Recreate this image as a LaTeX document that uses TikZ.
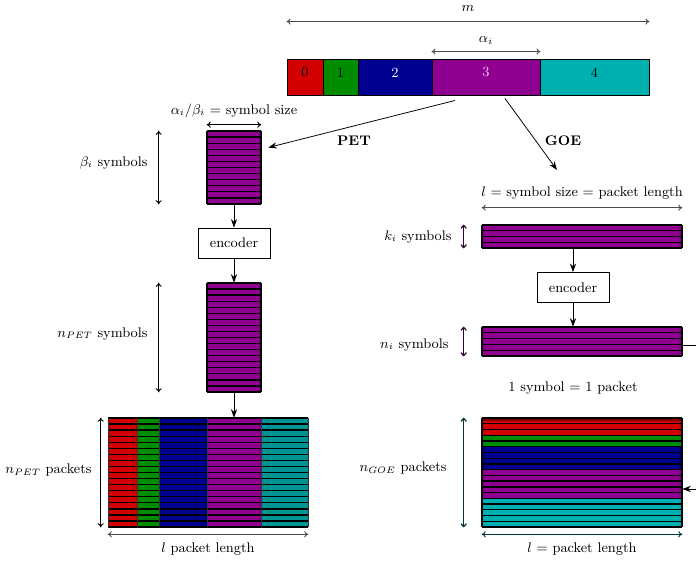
\documentclass[tikz,border=0pt]{standalone}
\usetikzlibrary{arrows.meta,fit,calc}
\definecolor{cred}{RGB}{210,0,0}
\definecolor{cgreen}{RGB}{0,140,0}
\definecolor{cblue}{RGB}{0,0,144}
\definecolor{cpurple}{RGB}{144,0,144}
\definecolor{cteal}{RGB}{0,176,176}
\definecolor{cteald}{RGB}{0,148,148}
\definecolor{cpink}{RGB}{250,200,250}
\newcommand\hstripes[6]{%
  \fill[#6] (#1,#2) rectangle (#3,#4);
  \foreach \k in {0,...,#5}{\draw[stripe] (#1,{#2+\k*(#4-#2)/#5}) -- (#3,{#2+\k*(#4-#2)/#5});}
  \draw[stripe] (#1,#2) -- (#1,#4) (#3,#2) -- (#3,#4);}
\begin{document}
\begin{tikzpicture}[x=0.645pt,y=-0.645pt,
  every node/.style={font=\small},
  stripe/.style={line width=0.85pt,black},
  dim/.style={black!70,line width=0.6pt,{To[length=2.6pt,width=4pt]}-{To[length=2.6pt,width=4pt]}},
  flow/.style={black,line width=0.5pt,-{Stealth[length=5.5pt,width=4pt]}},
  seg/.style={draw,inner sep=0pt,line width=0.6pt},
  box/.style={draw,inner sep=0pt,minimum width=46.4pt,minimum height=19.4pt,line width=0.5pt},
  area/.style={inner sep=0pt}]
\useasboundingbox (0,0) rectangle (696,561);
% top bar
\node[seg,fill=cred,fit={(287,59)(323,95)}] (b0) {0};
\node[seg,fill=cgreen,fit={(323,59)(358,95)}] (b1) {1};
\node[seg,fill=cblue,text=white,fit={(358,59)(432,95)}] (b2) {2};
\node[seg,fill=cpurple,text=cpink,fit={(432,59)(540,95)}] (b3) {3};
\node[seg,fill=cteal,fit={(540,59)(649,95)}] (b4) {4};
\draw[dim] ($(b0.north west)+(0,-37)$) -- node[above=3pt,black] (lm) {$m$} ($(b4.north east)+(0,-37)$);
\draw[dim] ($(b3.north west)+(0,-7)$) -- node[above=1pt,black] (la) {$\alpha_i$} ($(b3.north east)+(0,-7)$);
% left column
\node[area,fit={(207,131)(261,204)}] (s1) {};
\hstripes{207}{131}{261}{204}{12}{cpurple}
\draw[dim,black] ($(s1.north west)+(0,-6)$) -- node[above=1pt] (lsz) {$\alpha_i/\beta_i$ = symbol size} ($(s1.north east)+(0,-6)$);
\draw[dim,black] ($(s1.north west)+(-48,0)$) -- ($(s1.south west)+(-48,0)$);
\node[left] (lb) at (153,163) {$\beta_i$ symbols};
\node[box] (e1) at (234,243) {encoder};
\node[area,fit={(207,283)(261,392)}] (s2) {};
\hstripes{207}{283}{261}{392}{18}{cpurple}
\draw[dim,black] ($(s2.north west)+(-48,0)$) -- ($(s2.south west)+(-48,0)$);
\node[left] (lnp) at (153,334) {$n_{PET}$ symbols};
\draw[flow] (s1.south) -- (e1.north);
\draw[flow] (e1.south) -- (s2.north);
% left packet block
\node[area,fit={(108,418)(308,527)}] (p1) {};
\fill[cred] (108,418) rectangle (137,527);
\fill[cgreen] (137,418) rectangle (159,527);
\fill[cblue] (159,418) rectangle (207,527);
\fill[cpurple] (207,418) rectangle (261,527);
\fill[cteald] (261,418) rectangle (308,527);
\foreach \k in {0,...,18}{\draw[stripe] (108,{418+\k*109/18}) -- (308,{418+\k*109/18});}
\foreach \xx in {108,137,159,207,261,308}{\draw[line width=0.6pt,black!80] (\xx,418) -- (\xx,527);}
\draw[flow] (s2.south) -- (p1.north -| s2.south);
\draw[dim,black] ($(p1.north west)+(-7,0)$) -- ($(p1.south west)+(-7,0)$);
\node[left] (lpp) at (97,470) {$n_{PET}$ packets};
\draw[dim] ($(p1.south west)+(0,7)$) -- node[below=2pt,black] (lpl) {$l$ packet length} ($(p1.south east)+(0,7)$);
% PET / GOE arrows
\draw[flow] ($(b3.south)+(-31,5)$) -- ($(s1.east)+(7,-20)$);
\node[font=\small\bfseries] (pet) at (354,141) {PET};
\draw[flow] ($(b3.south)+(19,3)$) -- (557,170);
\node[font=\small\bfseries] (goe) at (563,141) {GOE};
% right column
\node[area,fit={(482,225)(682,248)}] (k1) {};
\hstripes{482}{225}{682}{248}{4}{cpurple}
\draw[dim] ($(k1.north west)+(0,-17)$) -- node[above=2pt,black] (lls) {$l$ = symbol size = packet length} ($(k1.north east)+(0,-17)$);
\draw[dim,cpurple!40!black,line width=0.8pt] ($(k1.north west)+(-18,0)$) -- ($(k1.south west)+(-18,0)$);
\node[left] (lk) at (457,237) {$k_i$ symbols};
\node[box] (e2) at (573,287.5) {encoder};
\node[area,fit={(482,327)(682,356)}] (n1) {};
\hstripes{482}{327}{682}{356}{5}{cpurple}
\draw[dim,cpurple!40!black,line width=0.8pt] ($(n1.north west)+(-18,0)$) -- ($(n1.south west)+(-18,0)$);
\node[left] (ln) at (454,345) {$n_i$ symbols};
\draw[flow] (k1.south -| e2.north) -- (e2.north);
\draw[flow] (e2.south) -- (n1.north -| e2.south);
\node (lsp) at (573,388) {1 symbol = 1 packet};
% GOE packet block
\node[area,fit={(482,418)(682,527)}] (g1) {};
\foreach \c [count=\k from 0] in {cred,cred,cred,cgreen,cgreen,cblue,cblue,cblue,cblue,cpurple,cpurple,cpurple,cpurple,cpurple,cteal,cteal,cteal,cteal,cteal}
  {\fill[\c] (482,{418+\k*109/19}) rectangle (682,{418+(\k+1)*109/19});}
\fill[cred!60!black] (482,418) rectangle (682,421);
\foreach \k in {0,...,19}{\draw[stripe] (482,{418+\k*109/19}) -- (682,{418+\k*109/19});}
\draw[stripe] (482,418) -- (482,527) (682,418) -- (682,527);
\draw[dim,cteal!30!black,line width=0.8pt] ($(g1.north west)+(-18,0)$) -- ($(g1.south west)+(-18,0)$);
\node[left] (lg) at (452,468) {$n_{GOE}$ packets};
\draw[dim,cteal!30!black] ($(g1.south west)+(0,7)$) -- node[below=2pt,black] (lgl) {$l$ = packet length} ($(g1.south east)+(0,7)$);
% loop connector leaving the picture
\coordinate (out) at (740,345);
\draw[flow] ($(n1.east)+(0,3.5)$) -- (out) |- ($(g1.east)+(0,16.5)$);
\end{tikzpicture}
\end{document}
